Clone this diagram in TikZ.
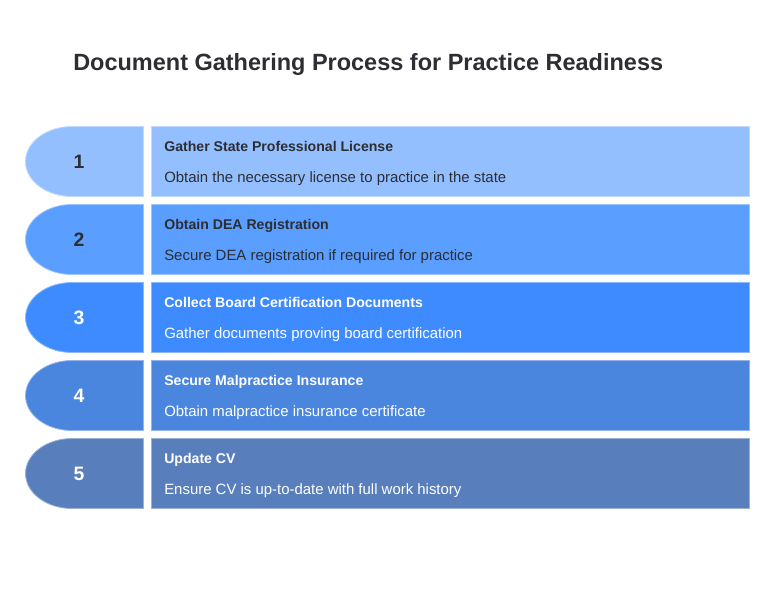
\documentclass[tikz,border=0pt]{standalone}
\usepackage{fontspec}
\setmainfont{Liberation Sans}
\usepackage{xcolor}
\usetikzlibrary{positioning}
\definecolor{stepa}{HTML}{94BFFF}
\definecolor{stepb}{HTML}{5A9EFF}
\definecolor{stepc}{HTML}{3D8BFF}
\definecolor{stepd}{HTML}{4A86DE}
\definecolor{stepe}{HTML}{587FBB}
\definecolor{inkdark}{HTML}{2C2E33}
\newcommand{\tabshape}[2]{%
  \draw[edge, fill=#2, draw=#2!60!white] (143.5,#1) -- (72,#1)
    arc[start angle=90, end angle=270, x radius=46.5, y radius=-35]
    -- (143.5,#1+70) -- cycle;
}
\begin{document}
\begin{tikzpicture}[
  x=0.025cm, y=-0.025cm,
  edge/.style={line width=0.02cm},
  card/.style={minimum width=14.95cm, minimum height=1.75cm, inner sep=0pt, line width=0.02cm},
  number/.style={font=\fontsize{13.8}{16}\selectfont\bfseries, inner sep=0pt},
  head/.style={anchor=base west, font=\fontsize{10.03}{12}\selectfont\bfseries, inner sep=0pt},
  body/.style={anchor=base west, font=\fontsize{10.62}{12}\selectfont, inner sep=0pt},
]
\useasboundingbox (0,0) rectangle (774,588);

% Title
\node[anchor=base west, inner sep=0pt, text=inkdark, font=\fontsize{16.7}{20}\selectfont\bfseries]
  (title) at (73,70) {Document Gathering Process for Practice Readiness};

% Left tabs
\tabshape{126.5}{stepa}
\tabshape{204.5}{stepb}
\tabshape{282.5}{stepc}
\tabshape{360.5}{stepd}
\tabshape{438.5}{stepe}

% Cards
\node[card, fill=stepa, draw=stepa!60!white] (c1) at (450.5,161.5) {};
\node[card, fill=stepb, draw=stepb!60!white] (c2) at (450.5,239.5) {};
\node[card, fill=stepc, draw=stepc!60!white] (c3) at (450.5,317.5) {};
\node[card, fill=stepd, draw=stepd!60!white] (c4) at (450.5,395.5) {};
\node[card, fill=stepe, draw=stepe!60!white] (c5) at (450.5,473.5) {};

% Numbers
\node[number, text=inkdark] (n1) at (79,161.5) {1};
\node[number, text=inkdark] (n2) at (79,239.5) {2};
\node[number, text=white] (n3) at (79,317.5) {3};
\node[number, text=white] (n4) at (79,395.5) {4};
\node[number, text=white] (n5) at (79,473.5) {5};

% Card texts
\node[head, text=inkdark] (h1) at (164,151) {Gather State Professional License};
\node[body, text=inkdark] (b1) at (164,182) {Obtain the necessary license to practice in the state};
\node[head, text=inkdark] (h2) at (164,229) {Obtain DEA Registration};
\node[body, text=inkdark] (b2) at (164,260) {Secure DEA registration if required for practice};
\node[head, text=white] (h3) at (164,307) {Collect Board Certification Documents};
\node[body, text=white] (b3) at (164,338) {Gather documents proving board certification};
\node[head, text=white] (h4) at (164,385) {Secure Malpractice Insurance};
\node[body, text=white] (b4) at (164,416) {Obtain malpractice insurance certificate};
\node[head, text=white] (h5) at (164,463) {Update CV};
\node[body, text=white] (b5) at (164,494) {Ensure CV is up-to-date with full work history};
\end{tikzpicture}
\end{document}
